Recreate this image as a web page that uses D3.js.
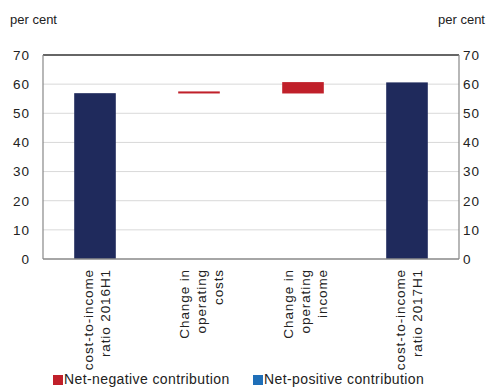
<!DOCTYPE html>
<html><head><meta charset="utf-8">
<script src="https://cdn.jsdelivr.net/npm/d3@7"></script>
<style>body{margin:0;background:#fff;} text{font-family:"Liberation Sans",Arial,sans-serif;fill:#222;}</style>
</head><body>
<svg id="c" width="490" height="387"></svg>
<script>
const categories = ["cost-to-income ratio 2016H1","Change in operating costs","Change in operating income","cost-to-income ratio 2017H1"];
const labelLines = [["cost-to-income","ratio 2016H1"],["Change in","operating","costs"],["Change in","operating","income"],["cost-to-income","ratio 2017H1"]];
const barLow  = [0, 56.8, 56.8, 0];
const barHigh = [56.9, 57.5, 60.7, 60.6];
const barType = ["level","negative","negative","level"];
const yTicks = [0,10,20,30,40,50,60,70];
const legendItems = ["Net-negative contribution","Net-positive contribution"];

const colors = {level:"#1f2a5c", negative:"#c0202a", positive:"#1f6fb8"};
const svg = d3.select("#c");
const L = 43, R = 459, T = 55, B = 259;
const x = d3.scaleBand().domain(categories).range([L,R]).paddingInner(0.6).paddingOuter(0.3);
const y = d3.scaleLinear().domain([0,70]).range([B,T]);

// gridlines
svg.append("g").selectAll("line").data(yTicks.filter(t=>t>0&&t<70)).join("line")
  .attr("x1",L).attr("x2",R).attr("y1",d=>y(d)).attr("y2",d=>y(d))
  .attr("stroke","#d9d9d9").attr("stroke-width",1);

// bars
svg.append("g").selectAll("rect").data(categories).join("rect")
  .attr("x",d=>x(d)).attr("width",x.bandwidth())
  .attr("y",(d,i)=>y(barHigh[i])).attr("height",(d,i)=>y(barLow[i])-y(barHigh[i]))
  .attr("fill",(d,i)=>colors[barType[i]]);

// frame
svg.append("line").attr("x1",L).attr("x2",R).attr("y1",T).attr("y2",T).attr("stroke","#333").attr("stroke-width",1.5);
svg.append("line").attr("x1",L).attr("x2",L).attr("y1",T).attr("y2",B).attr("stroke","#888").attr("stroke-width",1.2);
svg.append("line").attr("x1",R).attr("x2",R).attr("y1",T).attr("y2",B).attr("stroke","#888").attr("stroke-width",1.2);
svg.append("line").attr("x1",L).attr("x2",R).attr("y1",B).attr("y2",B).attr("stroke","#888").attr("stroke-width",1.5);

// axes labels
const yl = d3.axisLeft(y).tickValues(yTicks).tickSize(0).tickPadding(13);
const gl = svg.append("g").attr("transform",`translate(${L},0)`).call(yl);
gl.select(".domain").remove();
gl.selectAll("text").attr("font-size",13.5).attr("font-family","Liberation Sans, Arial").attr("fill","#222").attr("letter-spacing","1px");
const yr = d3.axisRight(y).tickValues(yTicks).tickSize(0).tickPadding(4);
const gr = svg.append("g").attr("transform",`translate(${R},0)`).call(yr);
gr.select(".domain").remove();
gr.selectAll("text").attr("font-size",13.5).attr("font-family","Liberation Sans, Arial").attr("fill","#222").attr("letter-spacing","1px");

svg.append("text").attr("x",10).attr("y",24).attr("font-size",13).text("per cent");
svg.append("text").attr("x",438).attr("y",24).attr("font-size",13).text("per cent");

// x labels
categories.forEach((c,i)=>{
  const lines = labelLines[i];
  const cx = x(c)+x.bandwidth()/2 + 2;
  const sp = 17;
  lines.forEach((ln,j)=>{
    const inkCenter = cx + (j-(lines.length-1)/2)*sp;
    const bx = inkCenter + 4.5;
    svg.append("text").attr("transform",`translate(${bx},269) rotate(-90)`)
      .attr("text-anchor","end").attr("font-size",13.5).attr("letter-spacing","0.9px").text(ln);
  });
});

// legend
const lg = [{x:53,c:colors.negative},{x:253,c:colors.positive}];
lg.forEach((d,i)=>{
  svg.append("rect").attr("x",d.x).attr("y",375).attr("width",10).attr("height",10).attr("fill",d.c);
  svg.append("text").attr("x",d.x+11).attr("y",383.5).attr("font-size",14).attr("letter-spacing","0.4px").text(legendItems[i]);
});
</script>
</body></html>
